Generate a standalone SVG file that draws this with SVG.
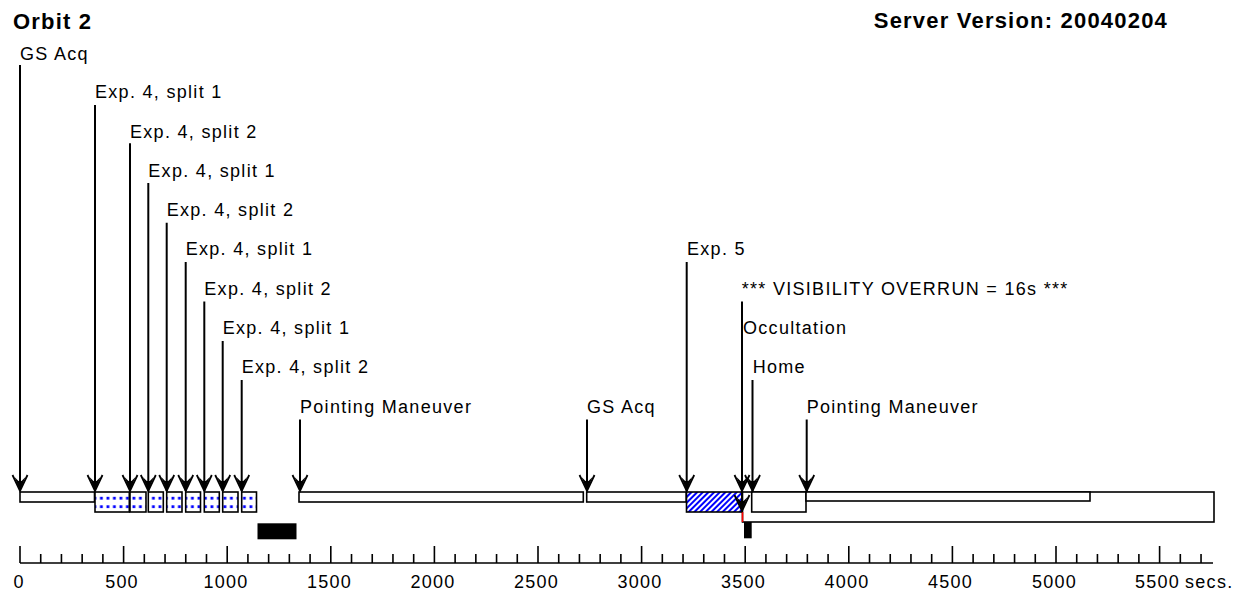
<svg xmlns="http://www.w3.org/2000/svg" width="1251" height="603" viewBox="0 0 1251 603">
<style>
.t{font-family:"Liberation Sans",Arial,sans-serif;font-size:18px;letter-spacing:1.3px;fill:#000}
.ax{font-family:"Liberation Sans",Arial,sans-serif;font-size:18px;letter-spacing:1.2px;fill:#000;text-anchor:middle}
.h{font-family:"Liberation Sans",Arial,sans-serif;font-size:22px;font-weight:bold;letter-spacing:1.2px;fill:#000}
.bar{fill:#fff;stroke:#000;stroke-width:1.6}
.dot{fill:url(#dots);stroke:#000;stroke-width:1.6}
.hat{fill:url(#hatch);stroke:#000;stroke-width:1.6}
.blk{fill:#000}
.arr{stroke:#000;stroke-width:2;fill:none;marker-end:url(#ah)}
.tick{stroke:#000;stroke-width:1.6;fill:none}
</style>
<defs>
<marker id="ah" markerUnits="userSpaceOnUse" markerWidth="20" markerHeight="20" refX="0" refY="0" orient="auto" overflow="visible">
<path d="M-16,-7.5 L0,0 L-16,7.5" fill="none" stroke="#000" stroke-width="1.8"/>
<path d="M0,0 L-14,-5.5 L-10,-1.5 L-10,1.5 L-14,5.5 Z" fill="#000"/>
</marker>
<pattern id="dots" patternUnits="userSpaceOnUse" x="1" y="496.8" width="6.5" height="8.5">
<rect width="6.5" height="8.5" fill="#fff"/>
<rect x="1.5" y="0" width="2.8" height="2.8" fill="#0000ff"/>
</pattern>
<pattern id="hatch" patternUnits="userSpaceOnUse" width="4" height="4" patternTransform="rotate(45)">
<rect width="4" height="4" fill="#fff"/>
<rect width="2" height="4" fill="#0000ff"/>
</pattern>
</defs>
<rect width="1251" height="603" fill="#fff"/>

<g id="title">
<text class="h" x="13" y="29">Orbit 2</text>
<text class="h" x="1168" y="28" text-anchor="end">Server Version: 20040204</text>
</g>

<g id="labels">
<g id="ev-gsacq1"><text class="t" x="20" y="60">GS Acq</text></g>
<g id="ev-e4s1a"><text class="t" x="95" y="98">Exp. 4, split 1</text></g>
<g id="ev-e4s2a"><text class="t" x="130" y="137.5">Exp. 4, split 2</text></g>
<g id="ev-e4s1b"><text class="t" x="148.3" y="177">Exp. 4, split 1</text></g>
<g id="ev-e4s2b"><text class="t" x="166.7" y="216">Exp. 4, split 2</text></g>
<g id="ev-e4s1c"><text class="t" x="185.7" y="255">Exp. 4, split 1</text></g>
<g id="ev-e4s2c"><text class="t" x="204.3" y="294.5">Exp. 4, split 2</text></g>
<g id="ev-e4s1d"><text class="t" x="222.7" y="334">Exp. 4, split 1</text></g>
<g id="ev-e4s2d"><text class="t" x="241.7" y="373">Exp. 4, split 2</text></g>
<g id="ev-point1"><text class="t" x="300" y="412.5">Pointing Maneuver</text></g>
<g id="ev-gsacq2"><text class="t" x="587" y="412.5">GS Acq</text></g>
<g id="ev-exp5"><text class="t" x="687" y="255">Exp. 5</text></g>
<g id="ev-overrun"><text class="t" x="741.7" y="294.5">*** VISIBILITY OVERRUN = 16s ***</text></g>
<g id="ev-occ"><text class="t" x="743" y="334">Occultation</text></g>
<g id="ev-home"><text class="t" x="752.7" y="373">Home</text></g>
<g id="ev-point2"><text class="t" x="806.7" y="412.5">Pointing Maneuver</text></g>
</g>

<g id="bars">
<g id="bar-gsacq1"><rect class="bar" x="20" y="492" width="74.5" height="10"/></g>
<g id="bar-exp4">
<rect class="dot" x="95" y="492" width="34.3" height="20"/>
<rect class="dot" x="130" y="492" width="16" height="20"/>
<rect class="dot" x="148.3" y="492" width="15" height="20"/>
<rect class="dot" x="166.7" y="492" width="15.3" height="20"/>
<rect class="dot" x="185.7" y="492" width="14.8" height="20"/>
<rect class="dot" x="204.3" y="492" width="15" height="20"/>
<rect class="dot" x="222.7" y="492" width="15.3" height="20"/>
<rect class="dot" x="241.7" y="492" width="14.8" height="20"/>
</g>
<g id="blk1"><rect class="blk" x="257.5" y="523.3" width="39" height="16"/></g>
<g id="bar-point1"><rect class="bar" x="299" y="492" width="284.3" height="10"/></g>
<g id="bar-gsacq2"><rect class="bar" x="586.7" y="492" width="99.5" height="10"/></g>
<g id="bar-exp5"><rect class="hat" x="686.5" y="492" width="56" height="20"/></g>
<g id="bar-big"><rect class="bar" x="742.5" y="492" width="471.5" height="30"/></g>
<g id="bar-home"><rect class="bar" x="751.7" y="492" width="54.3" height="20"/></g>
<g id="bar-point2"><rect class="bar" x="806" y="492" width="284" height="9"/></g>
<g id="overrun-mark"><line x1="742.5" y1="512" x2="742.5" y2="522" stroke="#ff0000" stroke-width="1.6"/></g>
<g id="blk2"><rect class="blk" x="744" y="522" width="7.7" height="16.3"/></g>
</g>

<g id="connectors">
<line class="arr" x1="20" y1="65" x2="20" y2="491"/>
<line class="arr" x1="95" y1="105" x2="95" y2="491"/>
<line class="arr" x1="130" y1="143.3" x2="130" y2="491"/>
<line class="arr" x1="148.3" y1="183" x2="148.3" y2="491"/>
<line class="arr" x1="166.7" y1="222.7" x2="166.7" y2="491"/>
<line class="arr" x1="185.7" y1="262" x2="185.7" y2="491"/>
<line class="arr" x1="204.3" y1="301.5" x2="204.3" y2="491"/>
<line class="arr" x1="222.7" y1="341" x2="222.7" y2="491"/>
<line class="arr" x1="241.7" y1="380" x2="241.7" y2="491"/>
<line class="arr" x1="300" y1="419.5" x2="300" y2="491"/>
<line class="arr" x1="587" y1="419.5" x2="587" y2="491"/>
<line class="arr" x1="686.7" y1="262" x2="686.7" y2="491"/>
<line class="arr" x1="742" y1="301.5" x2="742" y2="511"/>
<line class="arr" x1="742" y1="341" x2="742" y2="491"/>
<line class="arr" x1="752.5" y1="380" x2="752.5" y2="491"/>
<line class="arr" x1="806.7" y1="419.5" x2="806.7" y2="491"/>
</g>

<g id="axis">
<path class="tick" d="M20,563 H1213
M20,546V563 M123.6,546V563 M227.2,546V563 M330.8,546V563 M434.4,546V563 M538,546V563 M641.6,546V563 M745.2,546V563 M848.8,546V563 M952.4,546V563 M1056,546V563 M1159.6,546V563
M40.72,554V563 M61.44,554V563 M82.16,554V563 M102.88,554V563
M144.32,554V563 M165.04,554V563 M185.76,554V563 M206.48,554V563
M247.92,554V563 M268.64,554V563 M289.36,554V563 M310.08,554V563
M351.52,554V563 M372.24,554V563 M392.96,554V563 M413.68,554V563
M455.12,554V563 M475.84,554V563 M496.56,554V563 M517.28,554V563
M558.72,554V563 M579.44,554V563 M600.16,554V563 M620.88,554V563
M662.32,554V563 M683.04,554V563 M703.76,554V563 M724.48,554V563
M765.92,554V563 M786.64,554V563 M807.36,554V563 M828.08,554V563
M869.52,554V563 M890.24,554V563 M910.96,554V563 M931.68,554V563
M973.12,554V563 M993.84,554V563 M1014.56,554V563 M1035.28,554V563
M1076.72,554V563 M1097.44,554V563 M1118.16,554V563 M1138.88,554V563
M1180.32,554V563 M1201.04,554V563"/>
<text class="ax" x="19" y="588">0</text>
<text class="ax" x="122" y="588">500</text>
<text class="ax" x="226" y="588">1000</text>
<text class="ax" x="329.5" y="588">1500</text>
<text class="ax" x="433" y="588">2000</text>
<text class="ax" x="536.5" y="588">2500</text>
<text class="ax" x="640" y="588">3000</text>
<text class="ax" x="743.5" y="588">3500</text>
<text class="ax" x="847" y="588">4000</text>
<text class="ax" x="950.5" y="588">4500</text>
<text class="ax" x="1054.5" y="588">5000</text>
<text class="ax" x="1157.5" y="588">5500</text>
<text class="t" x="1185" y="588">secs.</text>
</g>
</svg>
